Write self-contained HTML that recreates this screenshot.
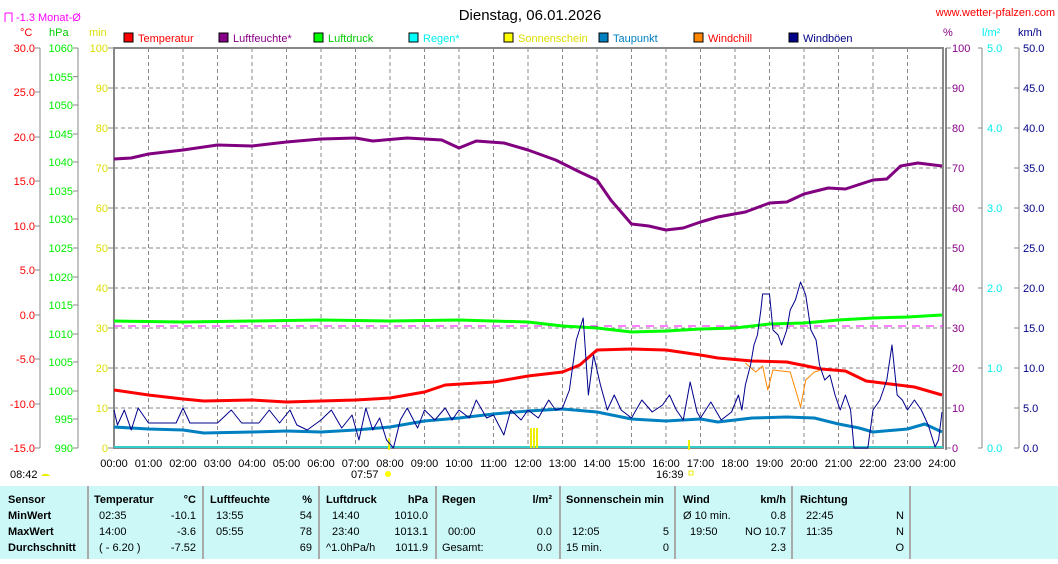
<!DOCTYPE html>
<html><head><meta charset="utf-8"><style>
body{margin:0;background:#fff;width:1058px;height:559px;overflow:hidden;font-family:"Liberation Sans",Arial,sans-serif}
svg text{font-family:"Liberation Sans",Arial,sans-serif;font-size:11px}
</style></head><body>
<svg width="1058" height="559" viewBox="0 0 1058 559" xmlns="http://www.w3.org/2000/svg">
<rect width="1058" height="559" fill="#fff"/>
<text x="530" y="20" text-anchor="middle" style="font-size:15px">Dienstag, 06.01.2026</text>
<text x="1055" y="16" text-anchor="end" fill="#f00">www.wetter-pfalzen.com</text>
<path d="M5 13v9M5 13h7v9" stroke="#f0f" fill="none"/>
<text x="16" y="21" fill="#f0f">-1.3 Monat-Ø</text>
<text x="20" y="36" fill="#f00">°C</text><text x="49" y="36" fill="#0c0">hPa</text><text x="89" y="36" fill="#dd0">min</text>
<text x="943" y="36" fill="#808">%</text><text x="982" y="36" fill="#0ee">l/m²</text><text x="1018" y="36" fill="#008">km/h</text>
<g font-size="11">
<rect x="124" y="33" width="9" height="9" fill="#f00" stroke="#000"/><text x="138" y="42" fill="#f00">Temperatur</text>
<rect x="219" y="33" width="9" height="9" fill="#808" stroke="#000"/><text x="233" y="42" fill="#808">Luftfeuchte*</text>
<rect x="314" y="33" width="9" height="9" fill="#0f0" stroke="#000"/><text x="328" y="42" fill="#0c0">Luftdruck</text>
<rect x="409" y="33" width="9" height="9" fill="#0ff" stroke="#000"/><text x="423" y="42" fill="#0ee">Regen*</text>
<rect x="504" y="33" width="9" height="9" fill="#ff0" stroke="#000"/><text x="518" y="42" fill="#dd0">Sonnenschein</text>
<rect x="599" y="33" width="9" height="9" fill="#0080c0" stroke="#000"/><text x="613" y="42" fill="#0080c0">Taupunkt</text>
<rect x="694" y="33" width="9" height="9" fill="#f80" stroke="#000"/><text x="708" y="42" fill="#f00">Windchill</text>
<rect x="789" y="33" width="9" height="9" fill="#008" stroke="#000"/><text x="803" y="42" fill="#008">Windböen</text>
</g>
<g stroke="#888" stroke-dasharray="4,3" stroke-width="1">
<path d="M114 88H943M114 128H943M114 168H943M114 208H943M114 248H943M114 288H943M114 328H943M114 368H943M114 408H943"/>
<path d="M148.5 48V448M183 48V448M217.5 48V448M252 48V448M286.5 48V448M321 48V448M355.5 48V448M390 48V448M424.5 48V448M459 48V448M493.5 48V448M528 48V448M562.5 48V448M597 48V448M631.5 48V448M666 48V448M700.5 48V448M735 48V448M769.5 48V448M804 48V448M838.5 48V448M873 48V448M907.5 48V448"/>
</g>
<rect x="114" y="48" width="829" height="400" fill="none" stroke="#888" stroke-width="2"/>
<line x1="946" y1="48" x2="946" y2="450" stroke="#888" stroke-width="2"/>
<g stroke="#888"><line x1="40" y1="48" x2="40" y2="448"/><line x1="78" y1="48" x2="78" y2="448"/><line x1="982" y1="48" x2="982" y2="448"/><line x1="1019" y1="48" x2="1019" y2="448"/></g>
<g fill="#f00" text-anchor="end">
<text x="35" y="52">30.0</text><text x="35" y="96">25.0</text><text x="35" y="141">20.0</text><text x="35" y="185">15.0</text><text x="35" y="230">10.0</text><text x="35" y="274">5.0</text><text x="35" y="319">0.0</text><text x="35" y="363">-5.0</text><text x="35" y="408">-10.0</text><text x="35" y="452">-15.0</text></g>
<g stroke="#888"><path d="M35 48h5M35 92h5M35 137h5M35 181h5M35 226h5M35 270h5M35 315h5M35 359h5M35 404h5M35 448h5"/>
<path d="M73 48h5M73 76.6h5M73 105h5M73 134h5M73 162h5M73 191h5M73 219h5M73 248h5M73 277h5M73 305h5M73 334h5M73 362h5M73 391h5M73 419h5M73 448h5"/>
<path d="M108 48h6M108 88h6M108 128h6M108 168h6M108 208h6M108 248h6M108 288h6M108 328h6M108 368h6M108 408h6M108 448h6"/>
<path d="M946 48h5M946 88h5M946 128h5M946 168h5M946 208h5M946 248h5M946 288h5M946 328h5M946 368h5M946 408h5M946 448h5"/>
<path d="M978 48h4M978 128h4M978 208h4M978 288h4M978 368h4M978 448h4"/>
<path d="M1014 48h5M1014 88h5M1014 128h5M1014 168h5M1014 208h5M1014 248h5M1014 288h5M1014 328h5M1014 368h5M1014 408h5M1014 448h5"/></g>
<g fill="#0e0" text-anchor="end">
<text x="73" y="52">1060</text><text x="73" y="81">1055</text><text x="73" y="109">1050</text><text x="73" y="138">1045</text><text x="73" y="166">1040</text><text x="73" y="195">1035</text><text x="73" y="223">1030</text><text x="73" y="252">1025</text><text x="73" y="281">1020</text><text x="73" y="309">1015</text><text x="73" y="338">1010</text><text x="73" y="366">1005</text><text x="73" y="395">1000</text><text x="73" y="423">995</text><text x="73" y="452">990</text></g>
<g fill="#dd0" text-anchor="end">
<text x="108" y="52">100</text><text x="108" y="92">90</text><text x="108" y="132">80</text><text x="108" y="172">70</text><text x="108" y="212">60</text><text x="108" y="252">50</text><text x="108" y="292">40</text><text x="108" y="332">30</text><text x="108" y="372">20</text><text x="108" y="412">10</text><text x="108" y="452">0</text></g>
<g fill="#808">
<text x="952" y="52">100</text><text x="952" y="92">90</text><text x="952" y="132">80</text><text x="952" y="172">70</text><text x="952" y="212">60</text><text x="952" y="252">50</text><text x="952" y="292">40</text><text x="952" y="332">30</text><text x="952" y="372">20</text><text x="952" y="412">10</text><text x="952" y="452">0</text></g>
<g fill="#0ee">
<text x="987" y="52">5.0</text><text x="987" y="132">4.0</text><text x="987" y="212">3.0</text><text x="987" y="292">2.0</text><text x="987" y="372">1.0</text><text x="987" y="452">0.0</text></g>
<g fill="#008">
<text x="1023" y="52">50.0</text><text x="1023" y="92">45.0</text><text x="1023" y="132">40.0</text><text x="1023" y="172">35.0</text><text x="1023" y="212">30.0</text><text x="1023" y="252">25.0</text><text x="1023" y="292">20.0</text><text x="1023" y="332">15.0</text><text x="1023" y="372">10.0</text><text x="1023" y="412">5.0</text><text x="1023" y="452">0.0</text></g>
<g text-anchor="middle" fill="#000">
<text x="114" y="467">00:00</text><text x="148.5" y="467">01:00</text><text x="183" y="467">02:00</text><text x="217.5" y="467">03:00</text><text x="252" y="467">04:00</text><text x="286.5" y="467">05:00</text><text x="321" y="467">06:00</text><text x="355.5" y="467">07:00</text><text x="390" y="467">08:00</text><text x="424.5" y="467">09:00</text><text x="459" y="467">10:00</text><text x="493.5" y="467">11:00</text><text x="528" y="467">12:00</text><text x="562.5" y="467">13:00</text><text x="597" y="467">14:00</text><text x="631.5" y="467">15:00</text><text x="666" y="467">16:00</text><text x="700.5" y="467">17:00</text><text x="735" y="467">18:00</text><text x="769.5" y="467">19:00</text><text x="804" y="467">20:00</text><text x="838.5" y="467">21:00</text><text x="873" y="467">22:00</text><text x="907.5" y="467">23:00</text><text x="942" y="467">24:00</text></g>
<text x="10" y="478">08:42</text><path d="M41 476a5 4 0 0 1 9 0z" fill="#ee0"/>
<text x="351" y="478">07:57</text><circle cx="388" cy="474" r="3" fill="#ff0"/>
<text x="656" y="478">16:39</text><rect x="689" y="471" width="4" height="4" fill="none" stroke="#ee0"/>
<line x1="114" y1="447" x2="943" y2="447" stroke="#3cc" stroke-width="2"/>
<line x1="114" y1="326" x2="943" y2="326" stroke="#f0f" stroke-dasharray="8,6"/>
<g stroke="#ee0" stroke-width="2"><path d="M389 438v12M531 428v20M534 428v20M537 428v20M689 440v10"/></g>
<g transform="translate(114,0) scale(34.5,1)" fill="none" stroke-linejoin="round">
<polyline vector-effect="non-scaling-stroke" stroke="#800080" stroke-width="3" points="0,159 0.5,158 1,154 2,150 3,145 4,146 5,142 6,139 7,138 7.5,141 8.5,138 9.5,140 10,148 10.5,141 11.3,143 12,150 12.8,160 13.5,172 14,180 14.4,200 15,224 15.5,226 16,230 16.5,228 17,222 17.5,217 18.3,212 19,203 19.5,202 20,194 20.7,188 21.2,189 22,180 22.4,179 22.8,166 23.3,163 24,166"/>
<polyline vector-effect="non-scaling-stroke" stroke="#0f0" stroke-width="3" points="0,321 2,322 4,321 6,320 8,321 10,320 12,322 13,326 14,328 15,332 16,331 17,329 18,328 19,324 20,323 21,320 22,318 23,317 24,315"/>
<polyline vector-effect="non-scaling-stroke" stroke="#f00" stroke-width="3" points="0,390 1,395 2,399 2.6,401 4,400 5,402 6,401 7,400 8,398 9,392 9.6,385 11,382 12,376 13,372 13.5,365 14,350 15,349 16,350 17,355 17.5,358 18.5,361 19.5,362 20.5,369 21.2,371 21.8,381 22.5,384 23.2,387 24,395"/>
<polyline vector-effect="non-scaling-stroke" stroke="#f80" stroke-width="1" points="18.3,363 18.6,372 18.8,366 18.95,390 19.1,370 19.6,372 19.8,395 19.9,407 20.05,380 20.3,372 20.5,370"/>
<polyline vector-effect="non-scaling-stroke" stroke="#0080c0" stroke-width="3" points="0,427 1,429 2,430 2.6,433 4,432 5,431 6,432 7,430 8,427 9,421 10,418 11,414 12,411 13,409 14,412 15,419 16,421 17,419 17.5,422 18.5,418 19.5,417 20.3,418 21,424 21.6,428 22,432 23,429 23.5,424 24,432"/>
<polyline vector-effect="non-scaling-stroke" stroke="#00008b" stroke-width="1" points="0,410 0.1,425 0.3,410 0.5,430 0.7,408 1,423 1.5,423 1.8,423 2,408 2.2,423 3,423 3.4,410 3.7,423 4.2,423 4.5,410 4.8,423 5.1,410 5.3,425 5.6,430 6,420 6.3,410 6.6,428 6.9,415 7.1,440 7.3,408 7.5,430 7.7,418 7.9,440 8.1,448 8.3,420 8.5,408 8.8,428 9,410 9.3,420 9.6,408 9.8,420 10,410 10.3,418 10.5,400 10.8,418 11,415 11.3,435 11.5,410 11.8,420 12,410 12.3,418 12.6,400 12.8,410 13,408 13.2,390 13.4,340 13.6,318 13.75,395 13.9,355 14.1,385 14.3,410 14.5,395 14.7,410 15,418 15.3,400 15.6,412 15.9,405 16.1,395 16.3,410 16.5,420 16.7,382 16.9,412 17,418 17.3,402 17.6,420 17.9,412 18.1,395 18.2,410 18.3,385 18.45,365 18.55,345 18.65,335 18.75,310 18.8,294 19.0,294 19.1,330 19.25,335 19.35,345 19.5,330 19.6,310 19.75,300 19.9,282 20.05,295 20.2,330 20.35,340 20.45,365 20.6,380 20.75,375 20.9,395 21.05,410 21.2,395 21.35,410 21.45,448 21.85,448 22.0,410 22.2,400 22.4,380 22.55,345 22.7,395 22.85,400 23.0,410 23.2,400 23.4,410 23.6,425 23.8,447 23.9,440 24,412"/>
</g>
<rect x="0" y="486" width="1058" height="73" fill="#ccf8f8"/>
<g stroke="#aaa" stroke-width="2"><path d="M88 486v73M203 486v73M319 486v73M436 486v73M560 486v73M675 486v73M792 486v73M910 486v73"/></g>
<g font-weight="bold" fill="#000">
<text x="8" y="503">Sensor</text><text x="8" y="519">MinWert</text><text x="8" y="535">MaxWert</text><text x="8" y="551">Durchschnitt</text>
<text x="94" y="503">Temperatur</text><text x="196" y="503" text-anchor="end">°C</text>
<text x="210" y="503">Luftfeuchte</text><text x="312" y="503" text-anchor="end">%</text>
<text x="326" y="503">Luftdruck</text><text x="428" y="503" text-anchor="end">hPa</text>
<text x="442" y="503">Regen</text><text x="552" y="503" text-anchor="end">l/m²</text>
<text x="566" y="503">Sonnenschein min</text>
<text x="683" y="503">Wind</text><text x="786" y="503" text-anchor="end">km/h</text>
<text x="800" y="503">Richtung</text></g>
<g fill="#000">
<text x="99" y="519">02:35</text><text x="196" y="519" text-anchor="end">-10.1</text>
<text x="99" y="535">14:00</text><text x="196" y="535" text-anchor="end">-3.6</text>
<text x="99" y="551">( - 6.20 )</text><text x="196" y="551" text-anchor="end">-7.52</text>
<text x="216" y="519">13:55</text><text x="312" y="519" text-anchor="end">54</text>
<text x="216" y="535">05:55</text><text x="312" y="535" text-anchor="end">78</text>
<text x="312" y="551" text-anchor="end">69</text>
<text x="332" y="519">14:40</text><text x="428" y="519" text-anchor="end">1010.0</text>
<text x="332" y="535">23:40</text><text x="428" y="535" text-anchor="end">1013.1</text>
<text x="326" y="551">^1.0hPa/h</text><text x="428" y="551" text-anchor="end">1011.9</text>
<text x="448" y="535">00:00</text><text x="552" y="535" text-anchor="end">0.0</text>
<text x="442" y="551">Gesamt:</text><text x="552" y="551" text-anchor="end">0.0</text>
<text x="572" y="535">12:05</text><text x="669" y="535" text-anchor="end">5</text>
<text x="566" y="551">15 min.</text><text x="669" y="551" text-anchor="end">0</text>
<text x="683" y="519">Ø 10 min.</text><text x="786" y="519" text-anchor="end">0.8</text>
<text x="690" y="535">19:50</text><text x="786" y="535" text-anchor="end">NO 10.7</text>
<text x="786" y="551" text-anchor="end">2.3</text>
<text x="806" y="519">22:45</text><text x="904" y="519" text-anchor="end">N</text>
<text x="806" y="535">11:35</text><text x="904" y="535" text-anchor="end">N</text>
<text x="904" y="551" text-anchor="end">O</text>
</g>
</svg>
</body></html>
